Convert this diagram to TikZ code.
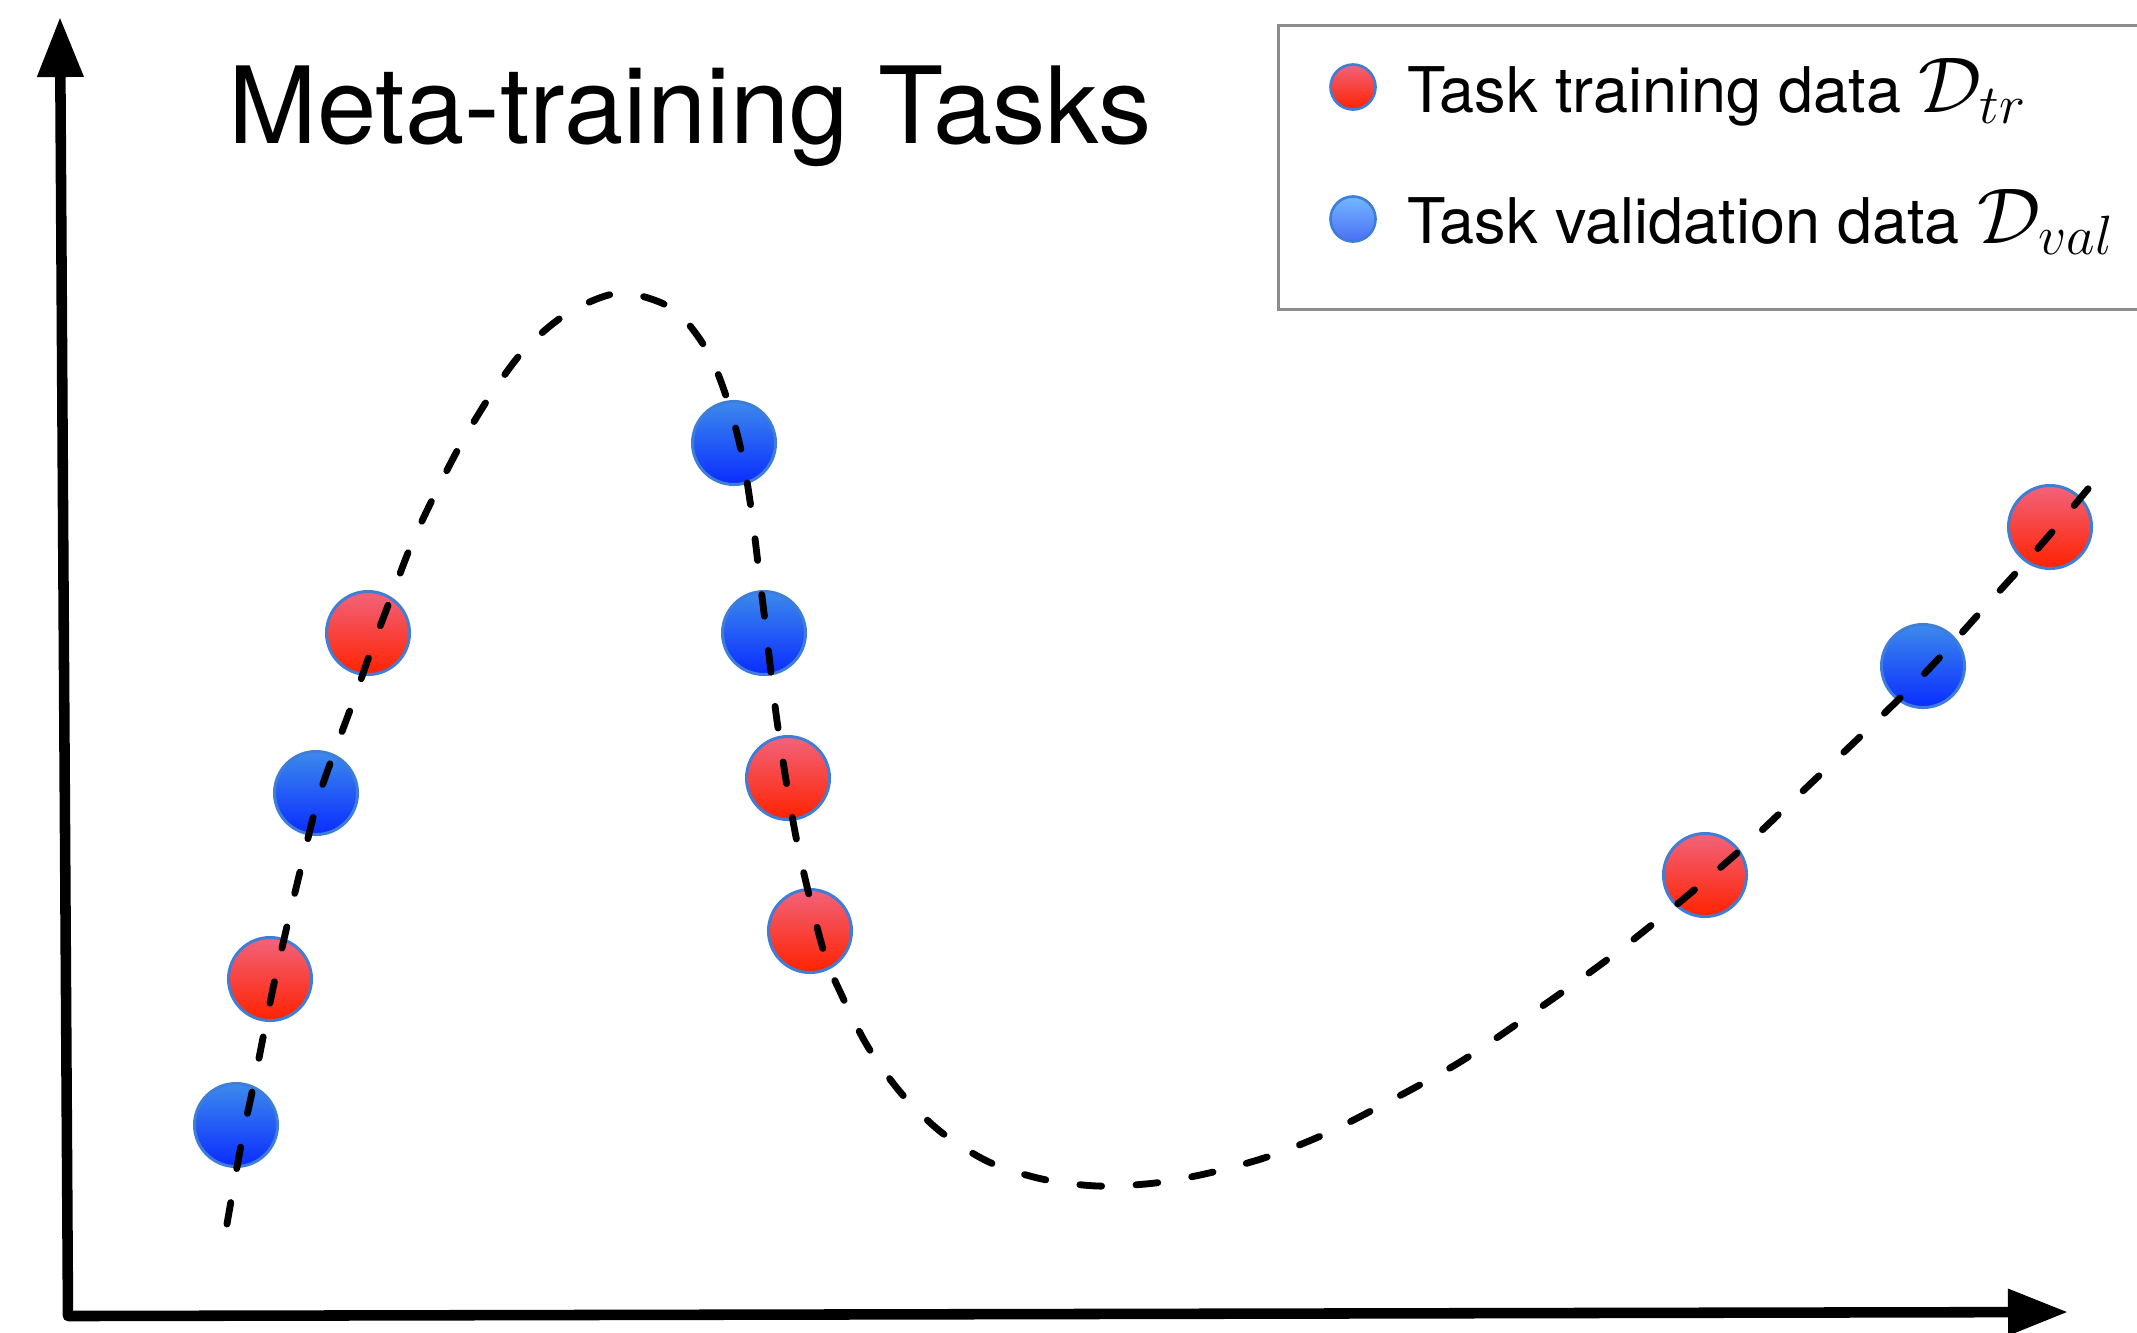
\documentclass[tikz,border=0pt]{standalone}
\usepackage{fix-cm}
\usepackage{fontspec}
\setmainfont{TeX Gyre Heros}
\usepackage{tikz}
\usetikzlibrary{arrows.meta}
\definecolor{ballrim}{HTML}{3E7ED6}
\definecolor{trtop}{HTML}{F2637B}
\definecolor{trbot}{HTML}{FF2200}
\definecolor{valtop}{HTML}{3C8AEC}
\definecolor{valbot}{HTML}{0A2CFF}
\definecolor{keyvaltop}{HTML}{72B8FF}
\definecolor{keyvalbot}{HTML}{4C6EF6}
\definecolor{framegray}{HTML}{8C8C8C}
\newcommand{\keymath}[1]{{\fontsize{22.5}{21}\selectfont$#1$}}
\tikzstyle{trball} = [circle, minimum size=0.83cm, inner sep=0pt, draw=ballrim, line width=0.85pt,
  top color=trtop, bottom color=trbot]
\tikzstyle{valball} = [circle, minimum size=0.83cm, inner sep=0pt, draw=ballrim, line width=0.85pt,
  top color=valtop, bottom color=valbot]
\tikzstyle{trkeyball} = [circle, minimum size=0.45cm, inner sep=0pt, draw=ballrim, line width=0.75pt,
  top color=trtop, bottom color=trbot]
\tikzstyle{valkeyball} = [circle, minimum size=0.45cm, inner sep=0pt, draw=ballrim, line width=0.75pt,
  top color=keyvaltop, bottom color=keyvalbot]
\tikzstyle{titletext} = [anchor=base west, inner sep=0pt, font=\fontsize{30.3}{36}\selectfont]
\tikzstyle{keytext} = [anchor=base west, inner sep=0pt, font=\fontsize{17.9}{21}\selectfont]
\tikzstyle{keyframe} = [draw=framegray, line width=0.85pt]
\tikzstyle{axis} = [line width=3pt, line join=round,
  {Triangle[length=6mm, width=4.4mm]}-{Triangle[length=6mm, width=4.4mm]}]
\tikzstyle{taskcurve} = [line width=1.95pt, line cap=round, dash pattern=on 6.2pt off 9.8pt]

\begin{document}
\begin{tikzpicture}[x=0.01cm, y=-0.01cm]
  \useasboundingbox (0,0) rectangle (2137,1332);

  \coordinate (ytip)   at (60,17);
  \coordinate (origin) at (68,1316);
  \coordinate (xtip)   at (2068,1312);
  \draw[axis] (ytip) -- (origin) -- (xtip);

  \node (title) [titletext] at (228,143) {Meta-training Tasks};

  \draw[keyframe] (1278,25) rectangle (2160,309);
  \node (trkey)    [trkeyball]  at (1353,87)  {};
  \node (valkey)   [valkeyball] at (1353,219) {};
  \node (trlabel)  [keytext] at (1407,112) {Task training data \keymath{\mathcal{D}_{tr}}};
  \node (vallabel) [keytext] at (1407,243) {Task validation data \keymath{\mathcal{D}_{val}}};

  \node (val1) [valball] at (236,1125) {};
  \node (tr1)  [trball]  at (270,979)  {};
  \node (val2) [valball] at (316,793)  {};
  \node (tr2)  [trball]  at (368,633)  {};
  \node (val3) [valball] at (734,443)  {};
  \node (val4) [valball] at (764,633)  {};
  \node (tr3)  [trball]  at (788,778)  {};
  \node (tr4)  [trball]  at (810,931)  {};
  \node (tr5)  [trball]  at (1705,875) {};
  \node (val5) [valball] at (1923,666) {};
  \node (tr6)  [trball]  at (2050,527) {};

  \draw[taskcurve] plot[smooth] coordinates {
    (227,1224) (237,1167) (245,1125) (254,1083) (275,979) (298,880) (320,793)
    (353,702) (372,648) (392,595) (412,543) (436,492) (462,442) (492,393)
    (525,349) (568,313) (620,293) (673,309) (708,352) (729,405) (743,459)
    (752,515) (759,572) (765,621) (778,728) (797,842) (823,949) (843,998)
    (868,1047) (901,1093) (941,1132) (989,1162) (1042,1179) (1098,1186)
    (1155,1183) (1209,1173) (1264,1158) (1316,1138) (1367,1113) (1460,1062)
    (1551,1000) (1616,953) (1681,901) (1746,845) (1806,788) (1867,730)
    (1927,671) (1984,608) (2040,546) (2092,484)};
\end{tikzpicture}
\end{document}
